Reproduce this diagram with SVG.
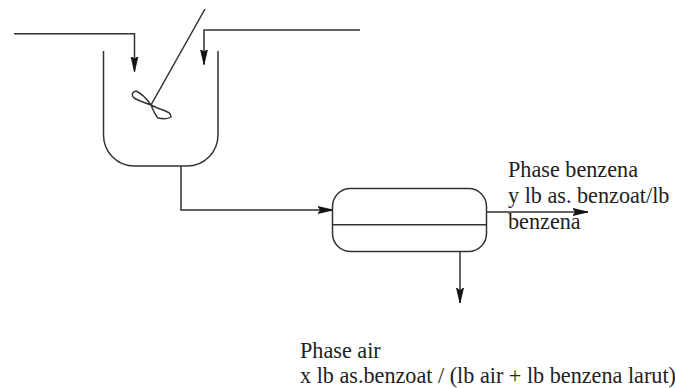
<svg xmlns="http://www.w3.org/2000/svg" width="675" height="388" viewBox="0 0 675 388">
<style>
.l{fill:none;stroke:#333;stroke-width:1.5}
.t{font-family:"Liberation Serif",serif;font-size:22.200px;fill:#222}
</style>
<defs>
<marker id="a" markerUnits="userSpaceOnUse" markerWidth="16" markerHeight="10" refX="15" refY="5" orient="auto"><path d="M0 1.500L15 5L0 8.500L2.500 5Z" fill="#111" stroke="#111" stroke-width=".8"/></marker>
</defs>
<rect width="675" height="388" fill="#fff"/>
<g id="connectors">
<path class="l" d="M14 33.700H134.500V71.500" marker-end="url(#a)"/>
<path class="l" d="M360 30H204V64.500" marker-end="url(#a)"/>
<path class="l" d="M181 166V210H333" marker-end="url(#a)"/>
<path class="l" d="M487 212H588" marker-end="url(#a)"/>
<path class="l" d="M460 251V303" marker-end="url(#a)"/>
</g>
<g id="tank">
<path class="l" d="M103.500 51V135A31 31 0 0 0 134.500 166H187A31 31 0 0 0 218 135V51"/>
</g>
<g id="agitator">
<path class="l" d="M205 9L151 105"/>
<path class="l" d="M151 105C146 98 141 93 136 91C132 92 131 95 134 98C139 101 145 103 151 105C153 110 155 115 158 118C163 119 168 119 171 117C171 113 168 112 163 110C159 109 155 107 151 105Z"/>
</g>
<g id="separator">
<rect class="l" x="332.500" y="188.500" width="154" height="63" rx="18" ry="18"/>
<path class="l" d="M332.500 224.700H486.500"/>
</g>
<g id="label-benzena">
<text class="t" x="508" y="177">Phase benzena</text>
<text class="t" x="508" y="203">y lb as. benzoat/lb</text>
<text class="t" x="508" y="229">benzena</text>
</g>
<g id="label-air">
<text class="t" x="300" y="358">Phase air</text>
<text class="t" x="300" y="383">x lb as.benzoat / (lb air + lb benzena larut)</text>
</g>
</svg>
